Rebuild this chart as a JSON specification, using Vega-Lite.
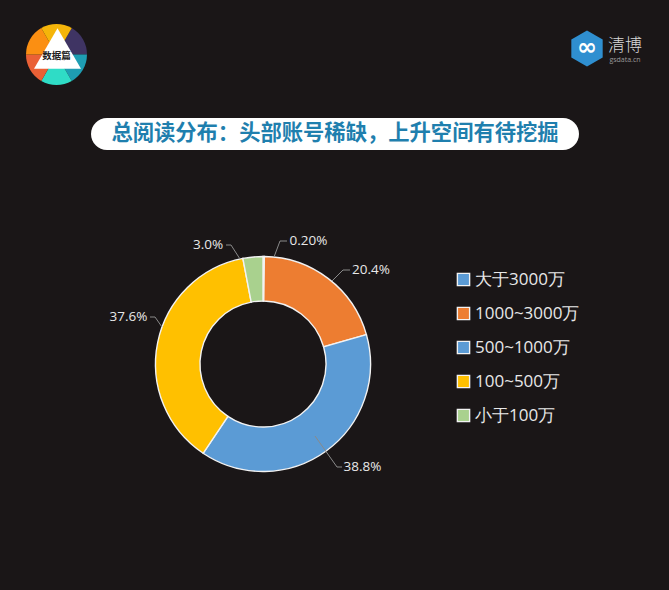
{
"$schema":"https://vega.github.io/schema/vega-lite/v6.json",
"background":"#1a1617",
"padding":{"left":26,"top":24,"right":24,"bottom":46},
"config":{"view":{"stroke":null},"font":"Open Sans"},
"datasets":{
"shares":[
{"category":"大于3000万","share":0.2,"rank":1,"label":"0.20%","across":45.5,"up":123},
{"category":"1000~3000万","share":20.4,"rank":2,"label":"20.4%","across":108,"up":94},
{"category":"500~1000万","share":38.8,"rank":3,"label":"38.8%","across":99.5,"up":-103},
{"category":"100~500万","share":37.6,"rank":4,"label":"37.6%","across":-134.5,"up":47},
{"category":"小于100万","share":3.0,"rank":5,"label":"3.0%","across":-55,"up":119}
],
"leaders":[
{"category":"大于3000万","step":1,"across":11,"up":107},{"category":"大于3000万","step":2,"across":17,"up":123},{"category":"大于3000万","step":3,"across":24,"up":123},
{"category":"1000~3000万","step":1,"across":69,"up":83},{"category":"1000~3000万","step":2,"across":80,"up":94},{"category":"1000~3000万","step":3,"across":87,"up":94},
{"category":"500~1000万","step":1,"across":52,"up":-72},{"category":"500~1000万","step":2,"across":74,"up":-103},{"category":"500~1000万","step":3,"across":79,"up":-103},
{"category":"100~500万","step":1,"across":-101,"up":37},{"category":"100~500万","step":2,"across":-108,"up":47},{"category":"100~500万","step":3,"across":-113,"up":47},
{"category":"小于100万","step":1,"across":-23,"up":105},{"category":"小于100万","step":2,"across":-32,"up":119},{"category":"小于100万","step":3,"across":-37,"up":119}
],
"badge":[
{"hue":"a","part":1,"rank":1},{"hue":"b","part":1,"rank":2},{"hue":"c","part":1,"rank":3},{"hue":"d","part":1,"rank":4},{"hue":"e","part":1,"rank":5},{"hue":"f","part":1,"rank":6}
]
},
"resolve":{"scale":{"color":"independent"}},
"vconcat":[
{"hconcat":[
{"width":61,"height":61,"data":{"name":"badge"},"layer":[
{"mark":{"type":"arc","outerRadius":30.5},"encoding":{"theta":{"field":"part","type":"quantitative","stack":true,"scale":{"range":[0.524,6.807]}},"order":{"field":"rank"},"color":{"field":"hue","scale":{"domain":["a","b","c","d","e","f"],"range":["#3f3463","#1e9db3","#2fdcc6","#ea6036","#fb8f12","#f5b50a"]},"legend":null}}},
{"transform":[{"filter":"datum.rank==1"}],"mark":{"type":"point","shape":"triangle-up","filled":true,"opacity":1,"color":"#ffffff","size":2209,"yOffset":-6,"xOffset":1}},
{"transform":[{"filter":"datum.rank==1"}],"mark":{"type":"text","text":"数据篇","font":"Noto Sans CJK SC","fontWeight":"bold","fontSize":9.5,"color":"#222222","yOffset":1}}
]},
{"width":74,"height":61,"data":{"values":[{"brand":"清博"}]},"layer":[
{"mark":{"type":"point","shape":"M0,-1L0.87,-0.5L0.87,0.5L0,1L-0.87,0.5L-0.87,-0.5Z","filled":true,"opacity":1,"color":"#2f8fd0","size":1300,"xOffset":-21,"yOffset":-6}},
{"mark":{"type":"text","text":"∞","font":"DejaVu Sans","fontWeight":"bold","fontSize":24,"color":"#ffffff","xOffset":-21,"yOffset":-7}},
{"mark":{"type":"text","font":"Noto Sans CJK SC","fontWeight":"300","fontSize":17,"color":"#d9d9d9","xOffset":17,"yOffset":-9},"encoding":{"text":{"field":"brand"}}},
{"mark":{"type":"text","text":"gsdata.cn","font":"Open Sans","fontSize":7,"color":"#9a9a9a","xOffset":17,"yOffset":5}}
]}
],"spacing":484,"resolve":{"scale":{"color":"independent"}}},
{"hconcat":[
{"width":1,"height":30,"data":{"values":[{"gap":""}]},"mark":{"type":"text","opacity":0},"encoding":{"text":{"field":"gap"}}},
{"width":488,"height":32,"view":{"fill":"#ffffff","cornerRadius":16,"stroke":null},"data":{"values":[{"headline":"总阅读分布：头部账号稀缺，上升空间有待挖掘"}]},"mark":{"type":"text","font":"Noto Sans CJK SC","fontWeight":"bold","fontSize":21.3,"color":"#1f7fae"},"encoding":{"text":{"field":"headline"}}}
],"spacing":64},
{"width":474,"height":362,"layer":[
{"data":{"name":"shares"},"mark":{"type":"arc","outerRadius":107.5,"innerRadius":63,"stroke":"#f2f2f2","strokeWidth":1.4},
"encoding":{"theta":{"field":"share","type":"quantitative","stack":true},"order":{"field":"rank"},
"color":{"field":"category","type":"nominal","scale":{"domain":["大于3000万","1000~3000万","500~1000万","100~500万","小于100万"],"range":["#5b9bd5","#ed7d31","#5b9bd5","#ffc000","#a9d18e"]},
"legend":{"title":null,"orient":"none","legendX":429,"legendY":88,"symbolType":"square","symbolSize":150,"symbolStrokeColor":"#f2f2f2","symbolStrokeWidth":1.4,"symbolOpacity":1,"labelColor":"#e8e8e8","labelFont":"Open Sans","labelFontSize":17,"rowPadding":15,"labelOffset":3,"labelLimit":200}}}},
{"data":{"name":"leaders"},"mark":{"type":"line","color":"#8a8a8a","strokeWidth":1},
"encoding":{"x":{"field":"across","type":"quantitative","scale":{"domain":[-237,237]},"axis":null},"y":{"field":"up","type":"quantitative","scale":{"domain":[-181,181]},"axis":null},"detail":{"field":"category"},"order":{"field":"step"}}},
{"data":{"name":"shares"},"mark":{"type":"text","fontSize":13.5,"color":"#e8e8e8","font":"Open Sans"},
"encoding":{"x":{"field":"across","type":"quantitative","scale":{"domain":[-237,237]},"axis":null},"y":{"field":"up","type":"quantitative","scale":{"domain":[-181,181]},"axis":null},"text":{"field":"label"}}}
]}
],
"spacing":33
}
